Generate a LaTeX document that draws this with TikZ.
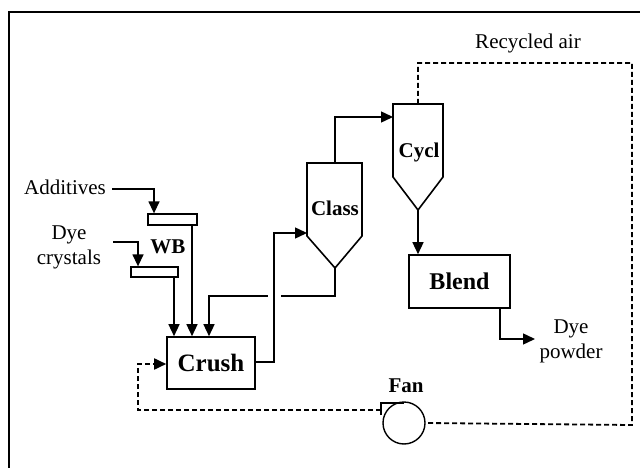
\documentclass[tikz,border=0pt]{standalone}
\usepackage{fontspec}
\setmainfont{Liberation Serif}
\usetikzlibrary{arrows.meta}
\begin{document}
\begin{tikzpicture}[x=1pt,y=-1pt,
  tip/.style={-{Triangle[length=12pt,width=11pt]}},
  conn/.style={line width=1.4pt,tip},
  recyc/.style={line width=1.8pt,dash pattern=on 5pt off 3pt},
  unit/.style={draw,line width=1.6pt,fill=white},
  lbl/.style={font=\fontsize{21}{23}\selectfont},
  blbl/.style={font=\bfseries\fontsize{21}{23}\selectfont},
  big/.style={font=\bfseries\fontsize{25}{27}\selectfont}]
\useasboundingbox (0,0) rectangle (640,468);
\draw[line width=1.6pt] (9,468) -- (9,12) -- (640,12);

% units
\node[unit,minimum width=88pt,minimum height=52pt,big] (crush) at (211,363) {Crush};
\node[unit,minimum width=101pt,minimum height=53pt,font=\bfseries\fontsize{24}{26}\selectfont] (blend) at (459.5,281.5) {Blend};
\draw[unit] (307,163) -- (362,163) -- (362,236) -- (335,268) coordinate (classtip) -- (307,236) -- cycle;
\node[blbl] (classlbl) at (335,208) {Class};
\coordinate (classtop) at (335,163);
\coordinate (classin) at (307,233);
\draw[unit] (393,104) -- (443,104) -- (443,177) -- (418,210) coordinate (cycltip) -- (393,177) -- cycle;
\node[blbl] (cycllbl) at (419,152) {Cycl};
\coordinate (cycltop) at (418,104);
\coordinate (cyclin) at (393,117);
\node[unit,line width=1.3pt,minimum width=49pt,minimum height=11pt,inner sep=0pt] (bar1) at (172.5,219.5) {};
\node[unit,line width=1.3pt,minimum width=47pt,minimum height=10pt,inner sep=0pt] (bar2) at (154.5,272) {};
\node[blbl] (wb) at (168,247) {WB};
\node[draw,circle,line width=1.4pt,minimum size=42pt,inner sep=0pt] (fan) at (404,423) {};
\node[blbl] (fanlbl) at (406,386) {Fan};
\draw[line width=1.4pt] (381,415) coordinate (fanout) -- (381,403) -- (404,403);

% texts
\node[lbl] (add) at (65,187) {Additives};
\node[lbl,align=center,font=\fontsize{21}{25}\selectfont] (dye) at (69,247) {Dye\\crystals};
\node[lbl,align=center,font=\fontsize{21}{25}\selectfont] (dyep) at (571,341) {Dye\\powder};
\node[lbl] (rec) at (528,43) {Recycled air};

% solid connectors
\draw[conn] (add.east) ++(3,2) -| (bar1.north -| 154,0);
\draw[conn] (113,242) -| (bar2.north -| 138,0);
\draw[conn] (bar1.south -| 192,0) -- (crush.north -| 192,0);
\draw[conn] (bar2.south -| 174,0) -- (crush.north -| 174,0);
\draw[conn] (classtip) -- (335,296) -| (crush.north -| 209,0);
\fill[white] (268,292) rectangle (281,300);
\draw[conn] (crush.east |- 0,362) -| (274,233) -- (classin);
\draw[conn] (classtop) -- (335,117) -- (cyclin);
\draw[conn] (cycltip) -- (blend.north -| cycltip);
\draw[conn] (blend.south -| 500,0) |- (535,339);

% recycled air loop
\draw[recyc] (cycltop) -- (418,63) -| (632,425) -- (fan.east);
\draw[recyc,tip] (381,410) -| (138,364) -- (crush.west |- 0,364);
\end{tikzpicture}
\end{document}
